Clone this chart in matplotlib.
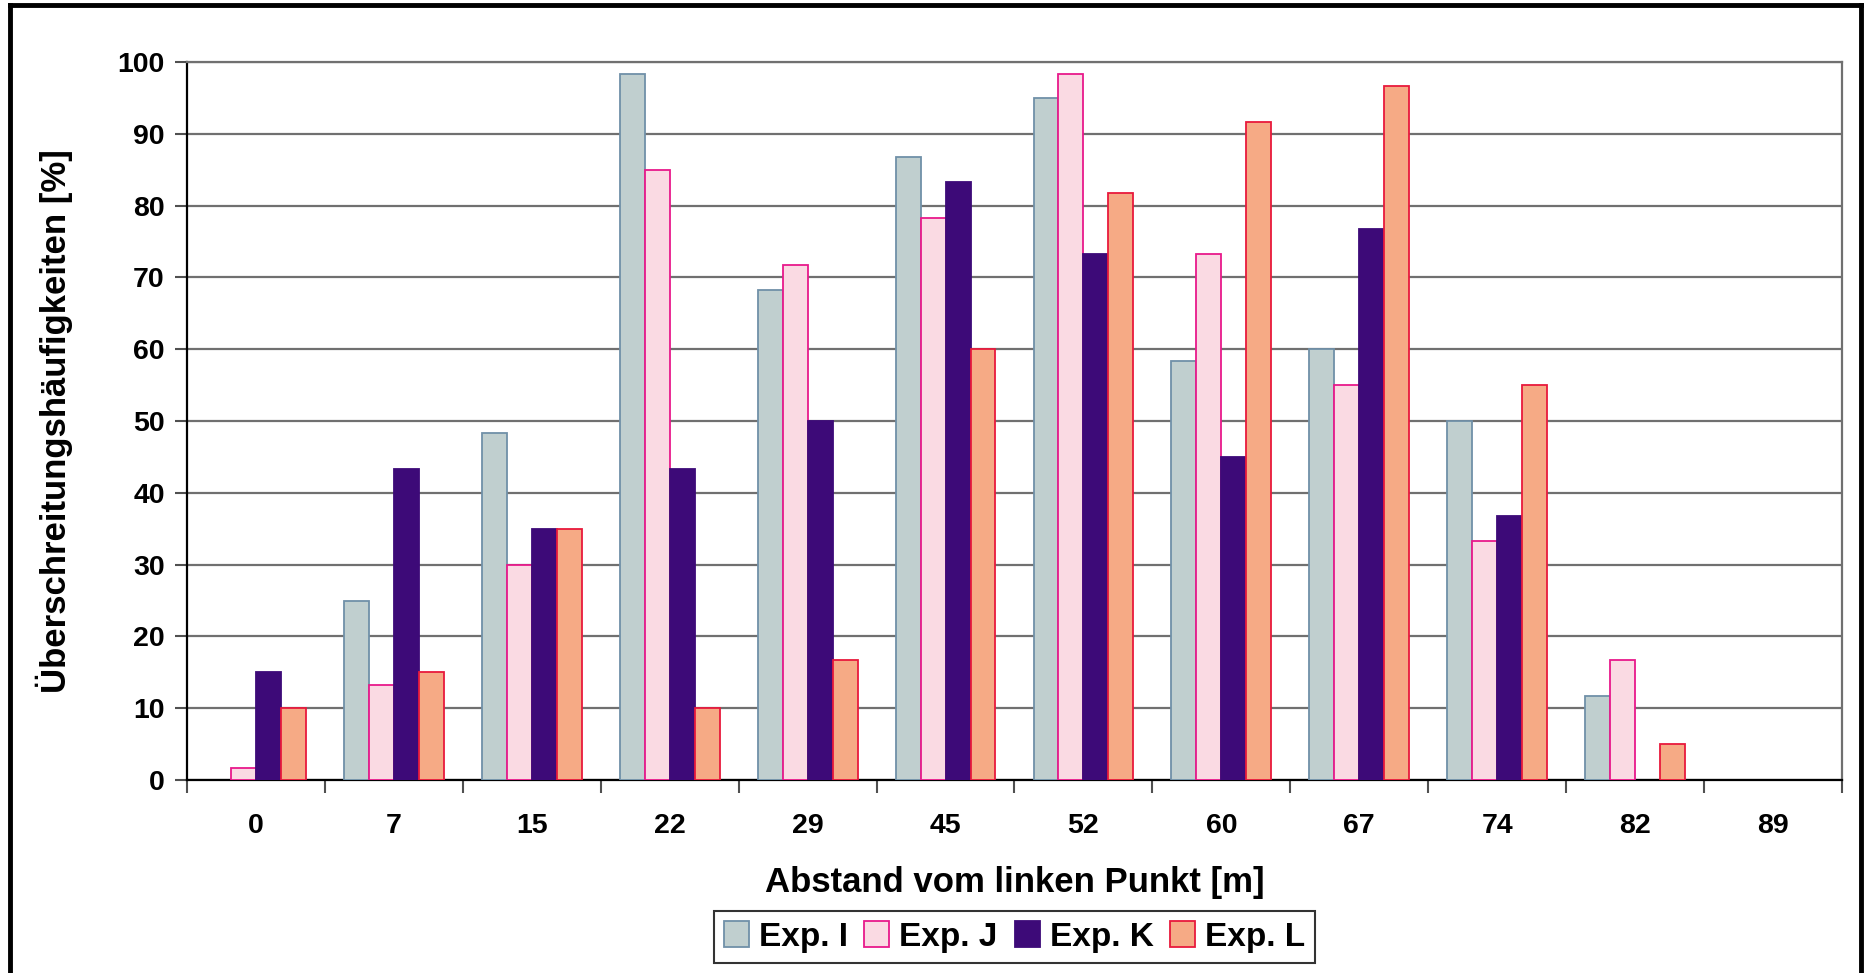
import matplotlib.pyplot as plt
import numpy as np
from matplotlib.lines import Line2D

plt.rcParams['font.family'] = ['Liberation Sans', 'DejaVu Sans']
plt.rcParams['font.weight'] = 'bold'

categories = ['0', '7', '15', '22', '29', '45', '52', '60', '67', '74', '82', '89']
exp_i = [0, 25, 48.3, 98.3, 68.3, 86.7, 95, 58.3, 60, 50, 11.7, 0]
exp_j = [1.7, 13.3, 30, 85, 71.7, 78.3, 98.3, 73.3, 55, 33.3, 16.7, 0]
exp_k = [15, 43.3, 35, 43.3, 50, 83.3, 73.3, 45, 76.7, 36.7, 0, 0]
exp_l = [10, 15, 35, 10, 16.7, 60, 81.7, 91.7, 96.7, 55, 5, 0]

series = [
    ('Exp. I', exp_i, '#C0CFCF', '#7090A8'),
    ('Exp. J', exp_j, '#FADAE3', '#E8198B'),
    ('Exp. K', exp_k, '#3D0A78', '#3D0A78'),
    ('Exp. L', exp_l, '#F6AA85', '#E8193C'),
]

fig = plt.figure(figsize=(18.65, 9.73), dpi=100)
ax = fig.add_axes([187 / 1865, 1 - 780 / 973, (1842 - 187) / 1865, (780 - 62) / 973])

x = np.arange(len(categories))
w = 0.181
for i, (name, vals, fc, ec) in enumerate(series):
    # zero values are not drawn at all in the original
    h = np.where(np.array(vals) == 0, np.nan, vals)
    ax.bar(x + (i - 1.5) * w, h, w, color=fc, edgecolor=ec, linewidth=1.3,
           label=name, zorder=3)

ax.set_xlim(-0.5, len(categories) - 0.5)
ax.set_ylim(0, 100)
ax.set_yticks(np.arange(0, 101, 10))
ax.yaxis.grid(True, color='#707070', linewidth=1.6, zorder=0)
ax.set_xticks(x)
ax.set_xticklabels(categories)
ax.set_xticks(np.arange(-0.5, len(categories), 1), minor=True)
ax.tick_params(axis='x', which='major', length=0, pad=24, labelsize=20.5)
ax.tick_params(axis='x', which='minor', length=9, width=1.5, color='#505050')
ax.tick_params(axis='y', length=9, width=1.5, color='#505050', labelsize=20.5, pad=7)

for s in ['top', 'right']:
    ax.spines[s].set_color('#707070')
    ax.spines[s].set_linewidth(1.6)
for s in ['left', 'bottom']:
    ax.spines[s].set_color('black')
    ax.spines[s].set_linewidth(1.6)

ax.set_xlabel('Abstand vom linken Punkt [m]', fontsize=25, fontweight='bold', labelpad=19)
ax.set_ylabel('Überschreitungshäufigkeiten [%]', fontsize=25, fontweight='bold', labelpad=32)

leg = ax.legend(loc='upper center', bbox_to_anchor=(0.5, -0.159), ncol=4, fontsize=24,
                frameon=True, fancybox=False, edgecolor='black', handlelength=0.75,
                handleheight=0.85, handletextpad=0.3, columnspacing=0.5, borderpad=0.3)
leg.get_frame().set_linewidth(1.5)

# outer chart frame
for xs, ys in [([10, 10], [5, 990]), ([10, 1861], [5, 5]), ([1861, 1861], [5, 990])]:
    fig.add_artist(Line2D([v / 1865 for v in xs], [1 - v / 973 for v in ys],
                          color='black', linewidth=3.5, transform=fig.transFigure))

fig.savefig('out.png', dpi=100)
